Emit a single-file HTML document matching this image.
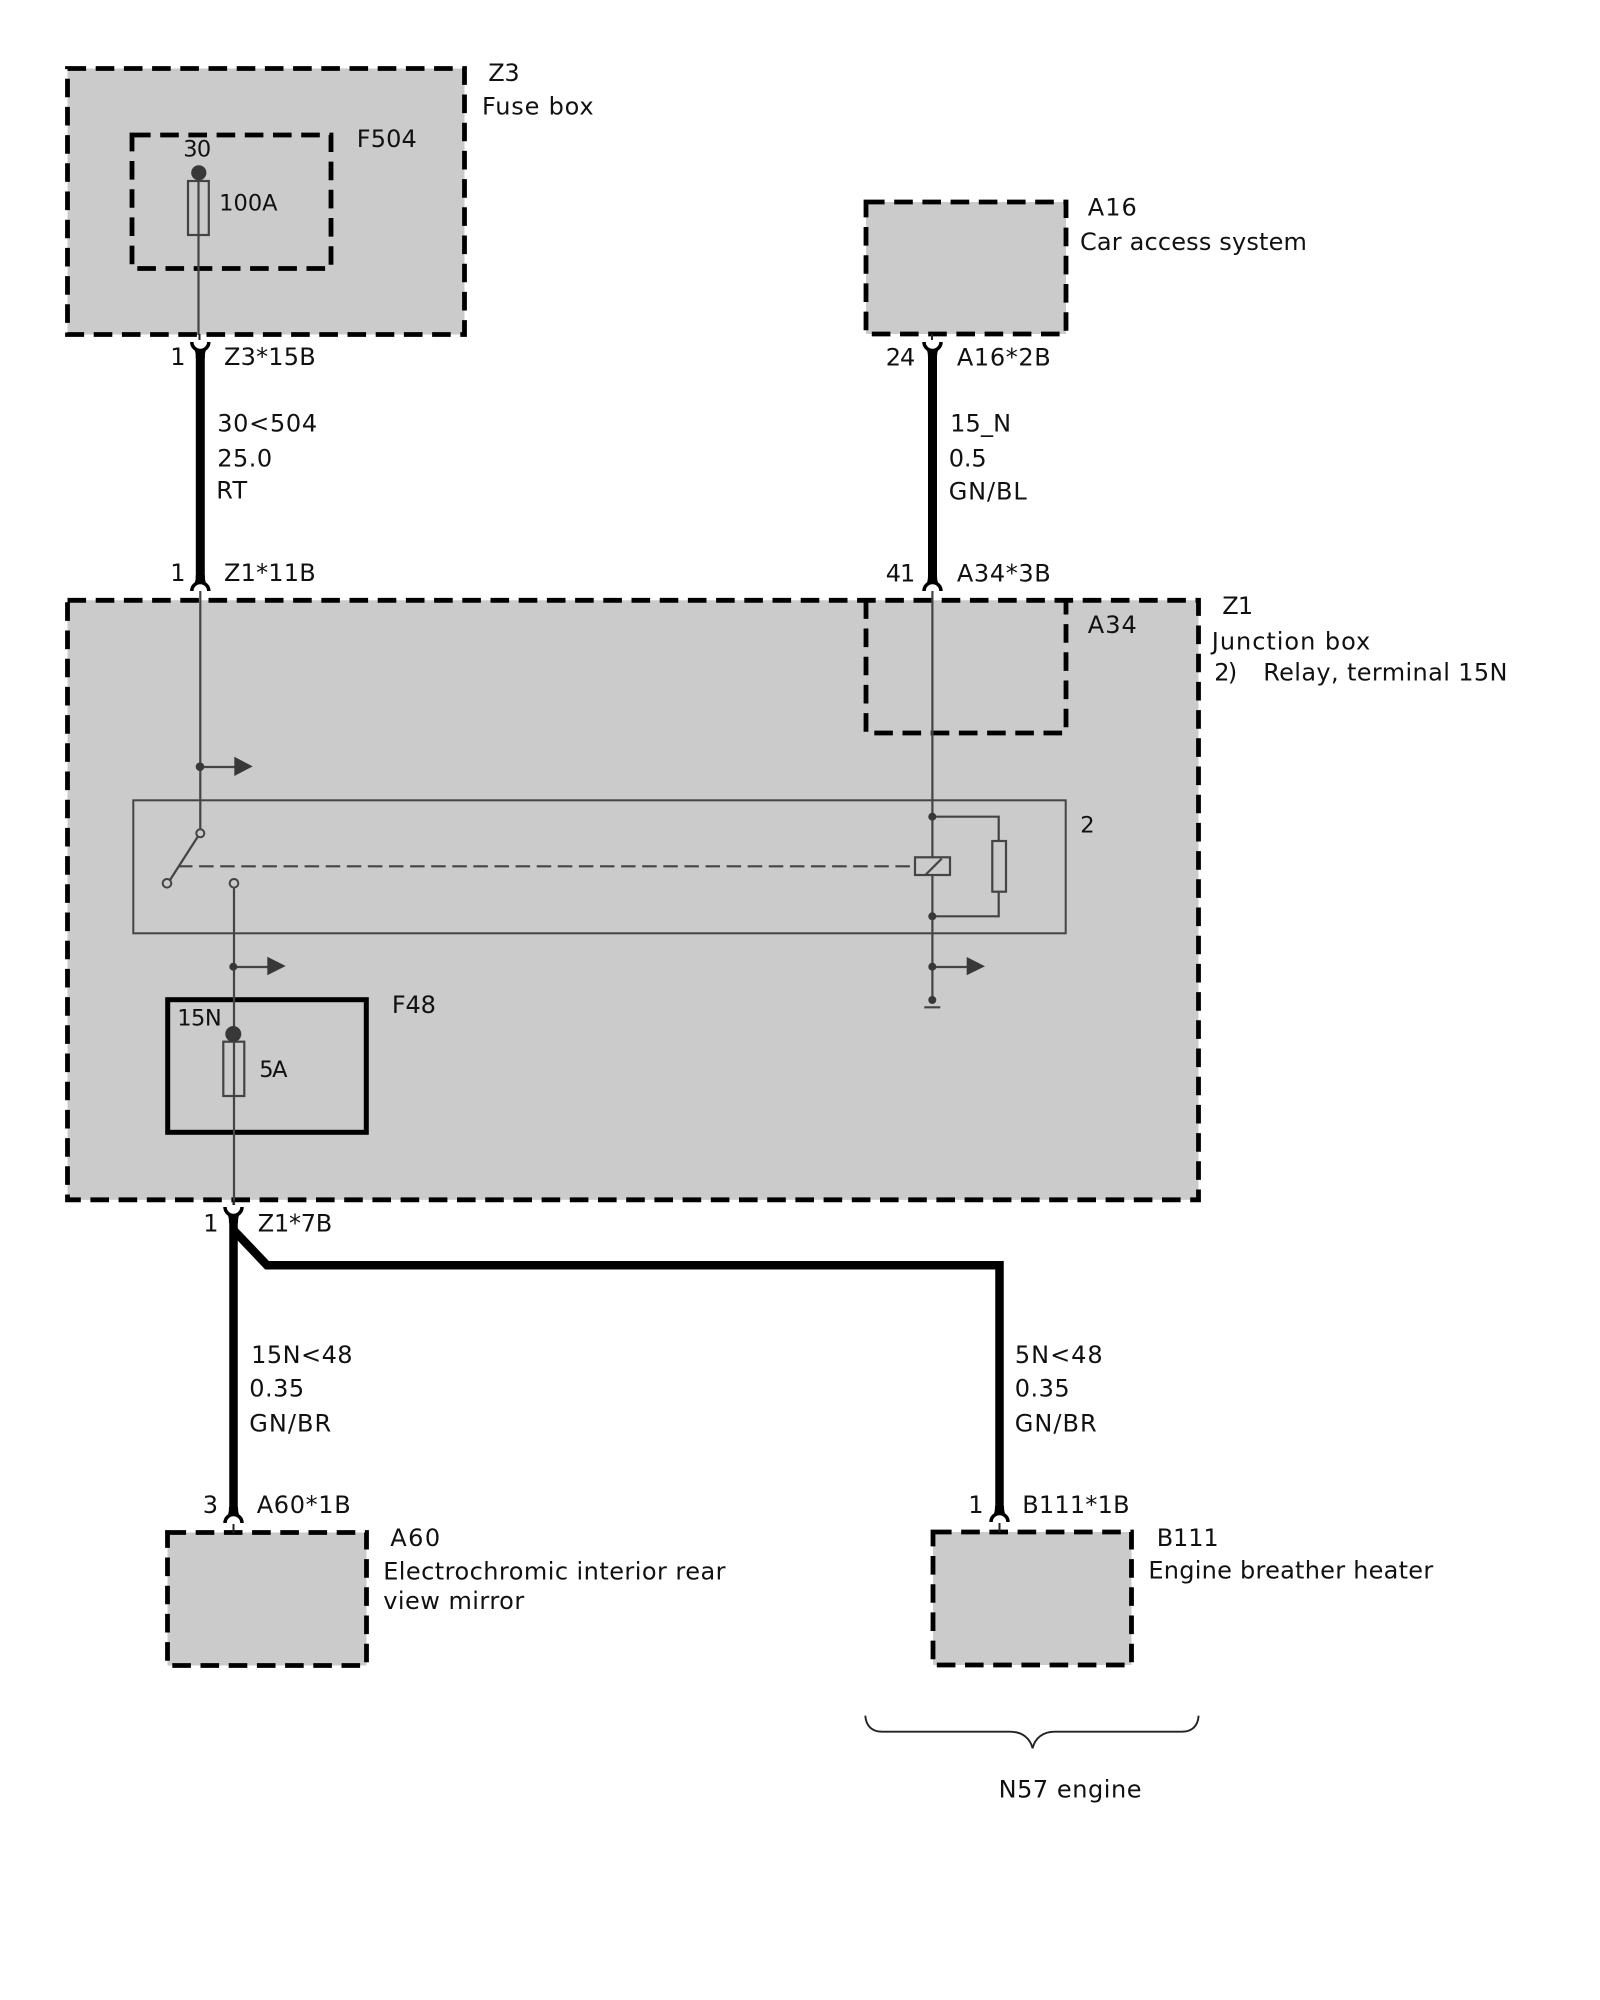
<!DOCTYPE html>
<html><head><meta charset="utf-8"><style>
html,body{margin:0;padding:0;background:#fff}
svg{display:block}
text{font-family:"DejaVu Sans",sans-serif;font-size:24px;fill:#111}
.s{font-size:22.5px}
</style></head><body>
<svg width="1600" height="2000" viewBox="0 0 1600 2000" xmlns="http://www.w3.org/2000/svg">
<defs>
<g id="cd">
<path d="M-8.5 0A8.5 8.5 0 0 0 8.5 0" fill="none" stroke="#000" stroke-width="3.5"/>
<path d="M-6 7.5Q-4.5 10 -4.5 16H4.5Q4.5 10 6 7.5Z" fill="#000"/>
</g>
<g id="cu">
<path d="M-8.5 0A8.5 8.5 0 0 1 8.5 0" fill="none" stroke="#000" stroke-width="3.5"/>
<path d="M-6 -7.5Q-4.5 -10 -4.5 -16H4.5Q4.5 -10 6 -7.5Z" fill="#000"/>
</g>
</defs>
<rect width="1600" height="2000" fill="#fff"/>
<g fill="#cbcbcb" stroke="none">
<rect x="67.5" y="68.5" width="397" height="266"/>
<rect x="866" y="202" width="200" height="132"/>
<rect x="67.5" y="600.3" width="1131" height="599.5"/>
<rect x="167.5" y="1532.5" width="199" height="133"/>
<rect x="933" y="1532" width="198.5" height="133"/>
</g>
<g fill="none" stroke="#000" stroke-width="4.8" stroke-dasharray="18.6 9.6">
<rect x="67.5" y="68.5" width="397" height="266"/>
<rect x="132" y="135" width="199" height="133.5"/>
<rect x="866" y="202" width="200" height="132"/>
<rect x="67.5" y="600.3" width="1131" height="599.5"/>
<path d="M866 600.3V733H1066V600.3"/>
<rect x="167.5" y="1532.5" width="199" height="133"/>
<rect x="933" y="1532" width="198.5" height="133"/>
</g>
<rect x="167.7" y="999.7" width="198.6" height="132.6" fill="none" stroke="#000" stroke-width="5"/>
<rect x="133.3" y="800.3" width="932.4" height="133" fill="none" stroke="#444" stroke-width="2"/>

<!-- thin wires -->
<g fill="none" stroke="#444" stroke-width="2.2">
<path d="M198.5 173V335"/>
<rect x="188" y="181" width="20.8" height="54"/>
<path d="M200.3 591V833"/>
<path d="M932.4 591V1000"/>
<path d="M234 887V1205"/>
<path d="M200 767H236M233.5 967H269M932.4 967H968"/>
<path d="M197.8 836.6L170 880"/>
<rect x="223.3" y="1041.7" width="21" height="54.3"/>
<path d="M932.4 816.7H998.7V841M998.7 892V916.3H932.4"/>
<rect x="992.3" y="841" width="13.7" height="50.7" fill="#cbcbcb"/>
<rect x="915" y="857.3" width="35" height="17.7" fill="#cbcbcb"/>
<path d="M924.3 1007.3H940.3"/>
<path d="M178 866.3H910" stroke-dasharray="14.5 6.6"/>
<path d="M925.7 874.6L941.7 858.7"/>
</g>
<g fill="#cbcbcb" stroke="#444" stroke-width="2">
<circle cx="200.3" cy="833.3" r="4"/>
<circle cx="167" cy="883.3" r="4.3"/>
<circle cx="234" cy="883.3" r="4.3"/>
</g>
<g fill="#383838">
<circle cx="198.8" cy="172.8" r="7.6"/>
<circle cx="233.3" cy="1034" r="8"/>
<circle cx="200" cy="766.7" r="4.3"/>
<circle cx="233.3" cy="966.7" r="4"/>
<circle cx="932.3" cy="816.7" r="4"/>
<circle cx="932.3" cy="916.3" r="4"/>
<circle cx="932.3" cy="966.7" r="4"/>
<circle cx="932.3" cy="1000" r="4"/>
<path d="M234.3 756.7L252.7 766.4L234.3 776Z"/>
<path d="M267.3 956.7L285.7 966L267.3 975.3Z"/>
<path d="M966.7 957L985 966.2L966.7 975.3Z"/>
</g>

<!-- thick wires -->
<g fill="none" stroke="#000">
<path d="M200.3 356V578" stroke-width="9"/>
<path d="M932.5 356V578" stroke-width="9"/>
<path d="M233.5 1220V1510" stroke-width="8.5"/>
<path d="M233.5 1230L267 1265.2H999.5V1508" stroke-width="8.5"/>
</g>
<!-- connector cups -->
<use href="#cd" x="200.3" y="342"/>
<use href="#cu" x="200.3" y="591"/>
<use href="#cd" x="932.5" y="342"/>
<use href="#cu" x="932.5" y="591"/>
<use href="#cd" x="233.5" y="1207"/>
<use href="#cu" x="233.5" y="1523"/>
<use href="#cu" x="999.5" y="1522"/>
<g stroke="#222" stroke-width="2" fill="none">
<path d="M199.5 334V340M932 334V340M233.5 1200V1205M233.5 1524V1533M999.5 1523V1532"/>
</g>
<!-- brace -->
<path d="M865.3 1715.7C866 1726 872 1731.7 882 1731.7H1010C1022 1731.7 1030 1738 1032.6 1748.3C1035 1738 1043 1731.7 1055 1731.7H1182C1192 1731.7 1198 1726 1198.6 1715.7" fill="none" stroke="#222" stroke-width="1.9"/>

<!-- labels -->
<g transform="translate(-0.8 -0.3)">
<text x="489" y="81.3" textLength="31.5">Z3</text>
<text x="482.8" y="114.6" textLength="111.6">Fuse box</text>
<text x="357.6" y="147.5" textLength="60">F504</text>
<text class="s" x="184" y="156.7" textLength="28">30</text>
<text class="s" x="219.9" y="211" textLength="58.5">100A</text>
<text x="171" y="365.3">1</text>
<text x="224.8" y="365.3" textLength="91.7">Z3*15B</text>
<text x="218" y="431.9" textLength="100">30&lt;504</text>
<text x="218" y="466.7" textLength="55">25.0</text>
<text x="217" y="499" textLength="31">RT</text>
<text x="171" y="581.5">1</text>
<text x="224.8" y="581.5" textLength="91.7">Z1*11B</text>

<text x="1088.6" y="215.9" textLength="49">A16</text>
<text x="1080.8" y="250.3" textLength="226.9">Car access system</text>
<text x="886.6" y="365.6" textLength="29.5">24</text>
<text x="957.7" y="365.6" textLength="93.8">A16*2B</text>
<text x="950.9" y="431.8" textLength="61">15_N</text>
<text x="949.5" y="467" textLength="38">0.5</text>
<text x="949.5" y="499.6" textLength="78">GN/BL</text>
<text x="886.6" y="581.8" textLength="29.5">41</text>
<text x="957.7" y="581.8" textLength="93.8">A34*3B</text>
<text x="1223" y="614.4" textLength="31">Z1</text>
<text x="1212.6" y="650" textLength="158.4">Junction box</text>
<text x="1215" y="680.6" textLength="23">2)</text>
<text x="1264" y="680.6" textLength="244.3">Relay, terminal 15N</text>
<text x="1088.6" y="633.5" textLength="49">A34</text>

<text class="s" x="1081" y="832.8">2</text>
<text class="s" x="178" y="1026" textLength="44.5">15N</text>
<text class="s" x="260" y="1077.3" textLength="28.3">5A</text>
<text x="392.7" y="1013.5" textLength="44">F48</text>

<text x="204" y="1232">1</text>
<text x="258.6" y="1232" textLength="74.4">Z1*7B</text>
<text x="251.9" y="1363.3" textLength="101.5">15N&lt;48</text>
<text x="250" y="1396.7" textLength="55">0.35</text>
<text x="250" y="1431.7" textLength="82">GN/BR</text>
<text x="1015.7" y="1363.3" textLength="87.8">5N&lt;48</text>
<text x="1015.5" y="1396.7" textLength="55">0.35</text>
<text x="1015.5" y="1431.7" textLength="82">GN/BR</text>
<text x="203.5" y="1513.3">3</text>
<text x="257.5" y="1513.3" textLength="94">A60*1B</text>
<text x="969" y="1513.3">1</text>
<text x="1023" y="1513.3" textLength="107.4">B111*1B</text>
<text x="391" y="1546.2" textLength="50">A60</text>
<text x="384" y="1580" textLength="342.3">Electrochromic interior rear</text>
<text x="384" y="1609.3" textLength="141">view mirror</text>
<text x="1157.5" y="1546.2" textLength="62">B111</text>
<text x="1149.2" y="1579" textLength="284.8">Engine breather heater</text>
<text x="999.4" y="1797.7" textLength="142.9">N57 engine</text>
</g>
</svg>
</body></html>
